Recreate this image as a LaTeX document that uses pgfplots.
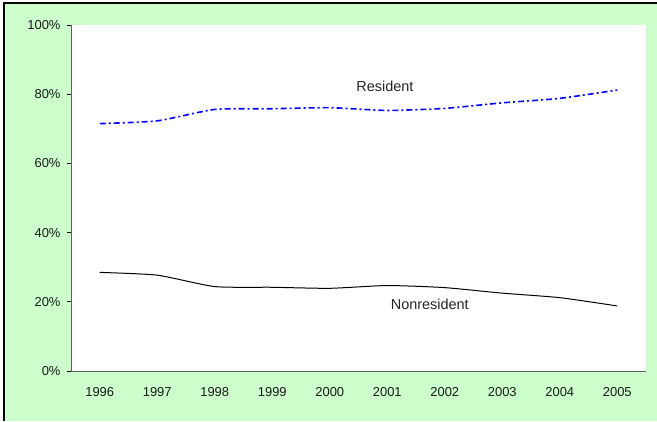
\documentclass[border=0pt]{standalone}
\usepackage{pgfplots}
\pgfplotsset{compat=1.18}
\usepackage{fontspec}
\setmainfont{Liberation Sans}
\definecolor{chartbg}{HTML}{CCFFCC}
\definecolor{axisgray}{HTML}{606060}

\pgfplotstableread{
idx year nonres res
0 1996 28.5 71.5
1 1997 27.7 72.3
2 1998 24.4 75.6
3 1999 24.2 75.8
4 2000 23.9 76.1
5 2001 24.7 75.3
6 2002 24.1 75.9
7 2003 22.5 77.5
8 2004 21.2 78.8
9 2005 18.8 81.2
}\shares

\begin{document}
\begin{tikzpicture}[x=1bp,y=1bp]
% outer chart frame
\path[use as bounding box] (0,0) rectangle (657,421);
\fill[chartbg] (4,0) rectangle (657,418);
\draw[line width=2bp] (4,0) -- (4,418) -- (657,418);
\begin{axis}[
    at={(71bp,50bp)}, anchor=south west,
    scale only axis,
    width=575bp, height=346bp,
    xmin=-0.5, xmax=9.5,
    ymin=0, ymax=100,
    axis x line*=bottom,
    axis y line*=left,
    axis line style={axisgray, line width=1bp},
    axis background/.style={fill=white},
    xtick={0,...,9},
    xticklabels={1996,1997,1998,1999,2000,2001,2002,2003,2004,2005},
    x tick style={draw=none},
    ytick={0,20,40,60,80,100},
    yticklabel={\pgfmathprintnumber{\tick}\%},
    tick align=outside,
    major tick length=4bp,
    y tick style={black, line width=0.8bp},
    tick label style={font=\fontsize{13}{15}\selectfont, text=black!90},
    xticklabel style={yshift=-9bp},
    yticklabel style={xshift=-3bp},
    /pgf/number format/assume math mode=true,
    clip=false,
]
\addplot[blue, line width=1.6bp, smooth, tension=0.35,
    dash pattern=on 6bp off 3bp on 2bp off 3bp]
    table[x=idx, y=res] {\shares};
\addplot[black, line width=1bp, smooth, tension=0.35]
    table[x=idx, y=nonres] {\shares};
\node[font=\fontsize{14.5}{16}\selectfont, text=black!85] at (axis cs:4.96,82.4) {Resident};
\node[font=\fontsize{14.5}{16}\selectfont, text=black!85] at (axis cs:5.74,19.4) {Nonresident};
\end{axis}
\end{tikzpicture}
\end{document}
